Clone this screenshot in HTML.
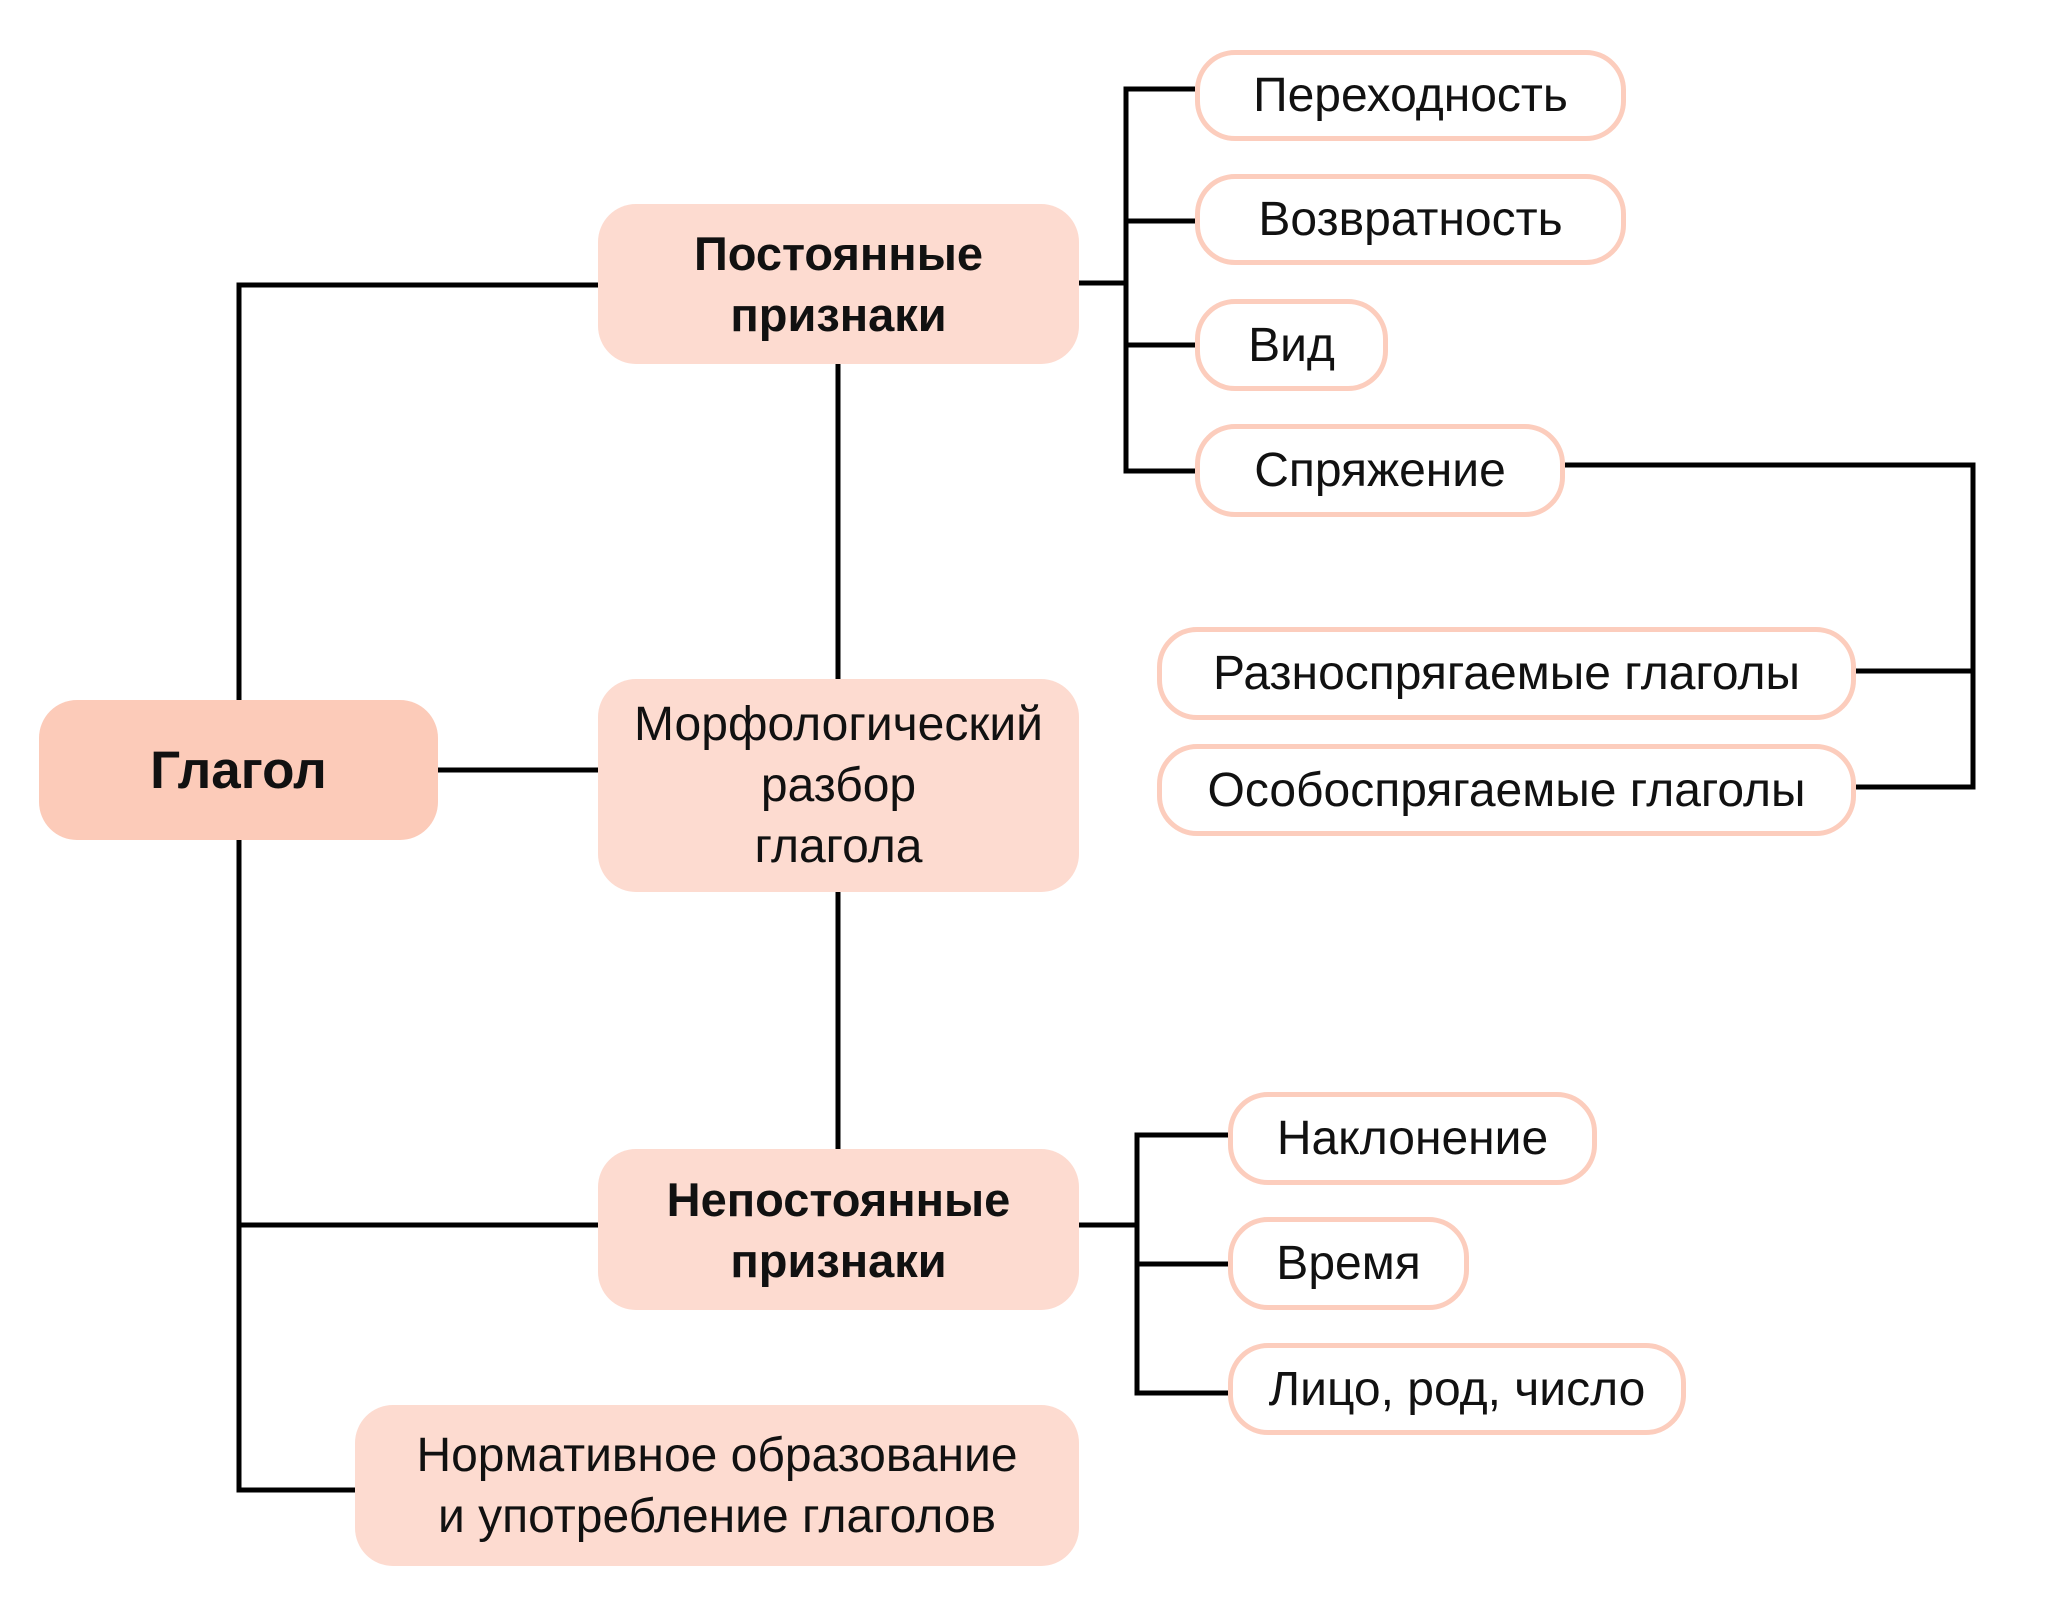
<!DOCTYPE html>
<html><head><meta charset="utf-8"><style>
body{margin:0;width:2048px;height:1604px;background:#fff;position:relative;overflow:hidden;font-family:"Liberation Sans","DejaVu Sans",sans-serif;color:#111}
.b{position:absolute;box-sizing:border-box;display:flex;align-items:center;justify-content:center;text-align:center;line-height:61px}
.f{background:#fddbd0;border-radius:38px;font-size:47px}
.o{background:#fff;border:5px solid #fccdbd;border-radius:40px;font-size:48px}
.bold{font-weight:bold}
svg{position:absolute;left:0;top:0}
</style></head><body>
<svg width="2048" height="1604" fill="none" stroke="#000" stroke-width="5">
<path d="M598 285H239V1490H355M438 770H598M239 1225H598M838 364V1149"/>
<path d="M1079 283H1126M1195 89H1126V471H1195M1126 221H1195M1126 345H1195"/>
<path d="M1565 465H1973V787H1856M1856 671H1973"/>
<path d="M1079 1225H1137M1228 1135H1137V1393H1228M1137 1264H1228"/>
</svg>
<div class="b f bold" style="left:39px;top:700px;width:399px;height:140px;background:#fccbb9;font-size:53px">Глагол</div>
<div class="b f bold" style="left:598px;top:204px;width:481px;height:160px">Постоянные<br>признаки</div>
<div class="b f" style="left:598px;top:679px;width:481px;height:213px;font-size:48px">Морфологический<br>разбор<br>глагола</div>
<div class="b f bold" style="left:598px;top:1149px;width:481px;height:161px">Непостоянные<br>признаки</div>
<div class="b f" style="left:355px;top:1405px;width:724px;height:161px;font-size:48px">Нормативное образование<br>и употребление глаголов</div>
<div class="b o" style="left:1195px;top:50px;width:431px;height:91px">Переходность</div>
<div class="b o" style="left:1195px;top:174px;width:431px;height:91px">Возвратность</div>
<div class="b o" style="left:1195px;top:299px;width:193px;height:92px">Вид</div>
<div class="b o" style="left:1195px;top:424px;width:370px;height:93px">Спряжение</div>
<div class="b o" style="left:1157px;top:627px;width:699px;height:93px">Разноспрягаемые глаголы</div>
<div class="b o" style="left:1157px;top:744px;width:699px;height:92px">Особоспрягаемые глаголы</div>
<div class="b o" style="left:1228px;top:1092px;width:369px;height:93px">Наклонение</div>
<div class="b o" style="left:1228px;top:1217px;width:241px;height:93px">Время</div>
<div class="b o" style="left:1228px;top:1343px;width:458px;height:92px">Лицо, род, число</div>
</body></html>
